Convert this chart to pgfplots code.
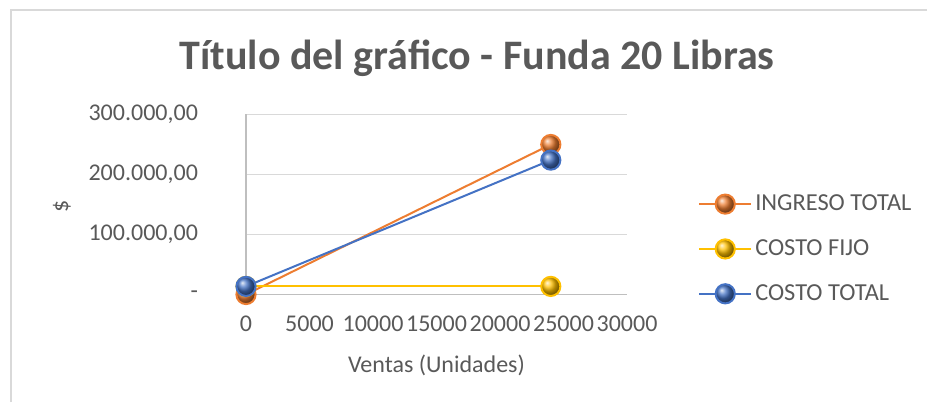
\documentclass[border=0pt]{standalone}
\usepackage{fontspec}
\setmainfont{Carlito}
\usepackage{pgfplots}
\pgfplotsset{compat=1.18}
\definecolor{txtgray}{HTML}{595959}
\definecolor{gridgray}{HTML}{D9D9D9}
\definecolor{axgray}{HTML}{BFBFBF}
\definecolor{ingreso}{HTML}{ED7D31}
\definecolor{fijo}{HTML}{FFC000}
\definecolor{total}{HTML}{4472C4}
\begin{document}
\begin{tikzpicture}
% lienzo: 1 px = 0.5 pt
\useasboundingbox (0,0) rectangle (463.5pt,201pt);
\draw[gridgray, line width=0.8pt] (5.5pt,0) -- (5.5pt,196pt) -- (463.5pt,196pt);
\node[anchor=base, text=txtgray, font=\bfseries\fontsize{21}{25}\selectfont]
  at (238.5pt,166pt) {Título del gráfico - Funda 20 Libras};
\begin{axis}[
  at={(123pt,53.75pt)}, anchor=south west,
  scale only axis, width=190.5pt, height=90pt,
  xmin=0, xmax=30000, ymin=0, ymax=300000,
  scaled ticks=false,
  axis x line=bottom, axis y line=left,
  axis line style={axgray, line width=0.6pt, -},
  major tick length=0pt,
  ymajorgrids, major grid style={gridgray, line width=0.6pt},
  xtick={0,5000,...,30000},
  xticklabels={0,5000,10000,15000,20000,25000,30000},
  ytick={0,100000,200000,300000},
  yticklabels={-\hspace{6pt},{100.000,00},{200.000,00},{300.000,00}},
  ticklabel style={font=\fontsize{12}{14}\selectfont, text=txtgray},
  yticklabel style={anchor=east, xshift=-20.5pt},
  xticklabel style={yshift=-7pt},
  xlabel={Ventas (Unidades)},
  ylabel={\$},
  label style={font=\fontsize{12}{14}\selectfont, text=txtgray},
  xlabel style={at={(axis description cs:0.5,0)}, anchor=center, yshift=-35.5pt},
  ylabel style={at={(axis description cs:0,0.49)}, anchor=center, yshift=92pt},
  clip=false,
  legend style={at={(axis description cs:1.186,0.253)}, anchor=west, draw=none, fill=none,
    font=\fontsize{12.2}{14}\selectfont, text=txtgray, row sep=10pt,
    inner sep=0pt, nodes={inner sep=1.5pt}},
  legend cell align=left,
  legend image code/.code={\draw[mark repeat=2,mark phase=2] plot coordinates {(0pt,0pt) (13pt,0pt) (26pt,0pt)};},
  every axis plot/.append style={line width=1pt, mark=ball, mark size=4.8pt},
]
\addplot[ingreso, mark options={ball color=ingreso}] coordinates {(0,0) (24000,250000)};
\addlegendentry{INGRESO TOTAL}
\addplot[fijo, mark options={ball color=fijo}] coordinates {(0,13500) (24000,13500)};
\addlegendentry{COSTO FIJO}
\addplot[total, mark options={ball color=total}] coordinates {(0,13500) (24000,224000)};
\addlegendentry{COSTO TOTAL}
\end{axis}
\end{tikzpicture}
\end{document}
